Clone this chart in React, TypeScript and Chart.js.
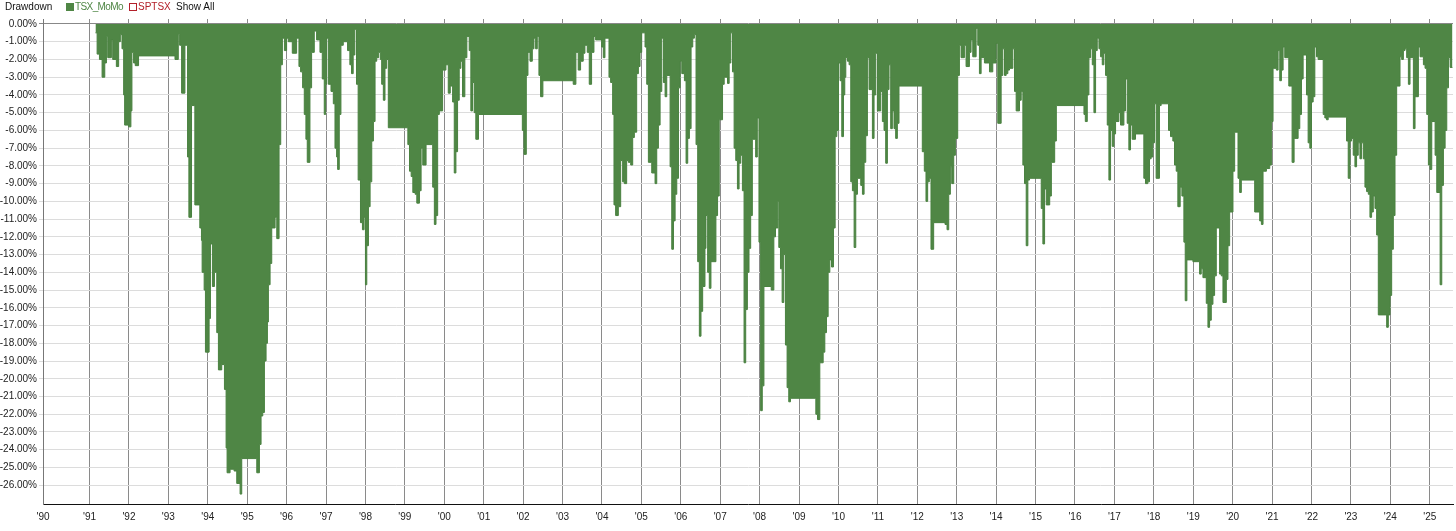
import { useEffect, useRef } from "react";
import { Chart, registerables } from "chart.js";
Chart.register(...registerables);

// decimal-year start of each step and drawdown (%) holding until the next step
const dates = [
  1991.151, 1991.193, 1991.252, 1991.319, 1991.387, 1991.429, 1991.462, 1991.555, 1991.588, 1991.681,
  1991.739, 1991.782, 1991.824, 1991.866, 1991.891, 1991.992, 1992.05, 1992.076, 1992.118, 1992.16,
  1992.244, 1993.168, 1993.252, 1993.286, 1993.336, 1993.42, 1993.487, 1993.521, 1993.588, 1993.672,
  1993.798, 1993.84, 1993.857, 1993.908, 1993.941, 1994.034, 1994.068, 1994.118, 1994.169, 1994.228,
  1994.27, 1994.355, 1994.423, 1994.465, 1994.49, 1994.566, 1994.668, 1994.735, 1994.82, 1994.862,
  1995.243, 1995.31, 1995.352, 1995.395, 1995.437, 1995.479, 1995.513, 1995.538, 1995.581, 1995.623,
  1995.708, 1995.75, 1995.809, 1995.851, 1995.893, 1995.944, 1996.0, 1996.042, 1996.144, 1996.254,
  1996.313, 1996.355, 1996.406, 1996.448, 1996.49, 1996.524, 1996.592, 1996.634, 1996.702, 1996.761,
  1996.846, 1996.905, 1996.955, 1996.989, 1997.017, 1997.059, 1997.126, 1997.185, 1997.227, 1997.269,
  1997.294, 1997.336, 1997.378, 1997.437, 1997.546, 1997.605, 1997.647, 1997.689, 1997.731, 1997.773,
  1997.815, 1997.874, 1997.924, 1997.966, 1998.0, 1998.034, 1998.076, 1998.118, 1998.16, 1998.202,
  1998.244, 1998.286, 1998.336, 1998.378, 1998.412, 1998.454, 1998.496, 1998.538, 1998.58, 1999.076,
  1999.118, 1999.16, 1999.202, 1999.261, 1999.303, 1999.37, 1999.412, 1999.454, 1999.538, 1999.706,
  1999.748, 1999.79, 1999.832, 1999.874, 1999.958, 2000.042, 2000.101, 2000.152, 2000.211, 2000.253,
  2000.295, 2000.337, 2000.379, 2000.421, 2000.463, 2000.522, 2000.573, 2000.632, 2000.674, 2000.716,
  2000.758, 2000.8, 2000.868, 2001.98, 2002.022, 2002.081, 2002.123, 2002.174, 2002.233, 2002.275,
  2002.317, 2002.359, 2002.401, 2002.443, 2002.502, 2003.271, 2003.339, 2003.398, 2003.458, 2003.525,
  2003.568, 2003.627, 2003.678, 2003.737, 2003.797, 2003.839, 2003.992, 2004.034, 2004.076, 2004.178,
  2004.22, 2004.271, 2004.305, 2004.347, 2004.415, 2004.475, 2004.525, 2004.568, 2004.627, 2004.669,
  2004.729, 2004.78, 2004.822, 2004.881, 2004.924, 2004.966, 2005.008, 2005.093, 2005.136, 2005.178,
  2005.263, 2005.347, 2005.39, 2005.432, 2005.475, 2005.517, 2005.559, 2005.602, 2005.644, 2005.729,
  2005.771, 2005.814, 2005.856, 2005.898, 2005.941, 2005.983, 2006.025, 2006.092, 2006.134, 2006.176,
  2006.218, 2006.261, 2006.303, 2006.345, 2006.387, 2006.429, 2006.471, 2006.513, 2006.555, 2006.613,
  2006.639, 2006.681, 2006.723, 2006.765, 2006.891, 2006.933, 2006.975, 2007.059, 2007.101, 2007.185,
  2007.227, 2007.269, 2007.311, 2007.353, 2007.395, 2007.437, 2007.479, 2007.521, 2007.563, 2007.605,
  2007.647, 2007.689, 2007.731, 2007.773, 2007.815, 2007.899, 2007.941, 2007.983, 2008.025, 2008.067,
  2008.109, 2008.294, 2008.361, 2008.403, 2008.462, 2008.487, 2008.529, 2008.571, 2008.613, 2008.655,
  2008.697, 2008.739, 2008.782, 2009.426, 2009.468, 2009.527, 2009.612, 2009.654, 2009.696, 2009.738,
  2009.781, 2009.823, 2009.873, 2009.916, 2009.958, 2010.0, 2010.042, 2010.084, 2010.127, 2010.16,
  2010.186, 2010.228, 2010.27, 2010.312, 2010.354, 2010.397, 2010.439, 2010.481, 2010.565, 2010.608,
  2010.65, 2010.692, 2010.734, 2010.776, 2010.861, 2010.903, 2010.945, 2010.987, 2011.072, 2011.114,
  2011.156, 2011.198, 2011.241, 2011.283, 2011.325, 2011.367, 2011.409, 2011.451, 2011.494, 2011.536,
  2012.127, 2012.178, 2012.22, 2012.263, 2012.305, 2012.347, 2012.415, 2012.703, 2012.754, 2012.797,
  2012.839, 2012.873, 2012.924, 2012.966, 2013.025, 2013.068, 2013.11, 2013.195, 2013.237, 2013.322,
  2013.364, 2013.407, 2013.492, 2013.534, 2013.576, 2013.619, 2013.703, 2013.831, 2013.915, 2014.0,
  2014.042, 2014.127, 2014.169, 2014.212, 2014.254, 2014.297, 2014.339, 2014.424, 2014.466, 2014.508,
  2014.593, 2014.636, 2014.678, 2014.72, 2014.763, 2014.805, 2014.847, 2015.144, 2015.186, 2015.229,
  2015.271, 2015.359, 2015.401, 2015.485, 2015.527, 2016.228, 2016.262, 2016.312, 2016.354, 2016.397,
  2016.439, 2016.481, 2016.523, 2016.565, 2016.608, 2016.65, 2016.692, 2016.734, 2016.776, 2016.819,
  2016.861, 2016.903, 2016.945, 2016.987, 2017.03, 2017.114, 2017.156, 2017.241, 2017.283, 2017.325,
  2017.367, 2017.409, 2017.451, 2017.536, 2017.747, 2017.789, 2017.848, 2017.89, 2017.932, 2017.975,
  2018.017, 2018.059, 2018.143, 2018.186, 2018.373, 2018.424, 2018.483, 2018.525, 2018.568, 2018.61,
  2018.669, 2018.712, 2018.763, 2018.797, 2018.839, 2018.992, 2019.161, 2019.203, 2019.246, 2019.331,
  2019.373, 2019.415, 2019.458, 2019.5, 2019.542, 2019.585, 2019.669, 2019.712, 2019.754, 2019.839,
  2019.881, 2019.924, 2020.008, 2020.051, 2020.136, 2020.178, 2020.22, 2020.559, 2020.686, 2020.729,
  2020.771, 2020.856, 2020.941, 2020.983, 2021.025, 2021.11, 2021.153, 2021.195, 2021.237, 2021.28,
  2021.322, 2021.424, 2021.508, 2021.559, 2021.661, 2021.703, 2021.746, 2021.788, 2021.873, 2021.915,
  2021.958, 2022.0, 2022.042, 2022.085, 2022.127, 2022.169, 2022.297, 2022.339, 2022.381, 2022.424,
  2022.89, 2022.932, 2022.975, 2023.017, 2023.059, 2023.102, 2023.144, 2023.186, 2023.229, 2023.271,
  2023.314, 2023.356, 2023.398, 2023.441, 2023.483, 2023.525, 2023.568, 2023.61, 2023.653, 2023.695,
  2023.907, 2023.949, 2023.992, 2024.034, 2024.076, 2024.119, 2024.161, 2024.246, 2024.288, 2024.331,
  2024.373, 2024.415, 2024.458, 2024.5, 2024.585, 2024.627, 2024.712, 2024.754, 2024.839, 2024.881,
  2024.924, 2024.966, 2025.008, 2025.051, 2025.136, 2025.178, 2025.263, 2025.305, 2025.347, 2025.39,
  2025.432, 2025.475, 2025.517, 2025.576,
];

const drawdown = [
  -0.5, -1.7, -2.0, -3.0, -2.2, -0.7, -1.9, -0.9, -2.0, -2.4,
  -1.0, -0.6, -1.4, -4.0, -5.7, -5.8, -4.9, -1.6, -2.2, -2.35,
  -1.8, -2.0, -0.6, -1.2, -3.9, -1.2, -7.5, -10.9, -4.6, -10.2,
  -11.5, -12.2, -14.0, -15.0, -18.5, -16.6, -12.4, -14.8, -14.0, -17.4,
  -19.5, -19.2, -20.6, -23.9, -25.3, -25.1, -25.2, -25.9, -26.5, -24.5,
  -25.3, -23.7, -22.1, -21.9, -19.0, -18.0, -16.8, -14.7, -13.5, -11.5,
  -10.9, -12.1, -6.8, -2.3, -0.8, -1.5, -0.8, -1.0, -1.65, -0.8,
  -2.4, -2.7, -3.6, -5.1, -6.5, -7.8, -3.6, -1.6, -0.4, -0.9,
  -1.6, -3.1, -5.1, -3.4, -0.8, -3.4, -3.8, -4.5, -7.0, -7.5,
  -8.2, -5.1, -1.2, -1.0, -1.5, -2.3, -2.8, -1.75, -0.3, -3.4,
  -8.8, -11.2, -11.6, -10.9, -14.7, -12.5, -10.3, -8.9, -6.6, -5.5,
  -2.1, -1.9, -1.6, -2.0, -3.4, -4.3, -2.5, -2.0, -5.85, -6.8,
  -8.3, -8.6, -9.5, -9.6, -10.1, -9.4, -7.0, -7.95, -6.8, -9.2,
  -11.3, -10.8, -5.1, -4.9, -2.6, -2.3, -3.9, -3.5, -4.4, -8.4,
  -7.2, -4.3, -2.5, -2.1, -4.1, -1.9, -0.7, -1.5, -4.9, -3.3,
  -5.0, -6.5, -5.1, -6.0, -7.35, -2.9, -1.6, -2.1, -1.4, -0.8,
  -1.4, -0.7, -2.9, -4.1, -3.2, -3.4, -1.6, -2.6, -2.1, -1.65,
  -1.2, -1.6, -3.4, -1.6, -0.7, -0.9, -1.3, -1.9, -0.8, -3.0,
  -3.3, -5.1, -10.2, -10.8, -10.3, -7.7, -8.9, -9.0, -7.7, -7.8,
  -7.95, -6.4, -6.1, -2.8, -2.4, -1.6, -0.5, -1.3, -3.4, -7.8,
  -8.4, -9.0, -7.0, -5.7, -3.8, -0.8, -3.3, -4.1, -2.9, -8.05,
  -12.7, -11.1, -9.6, -8.7, -3.6, -2.1, -2.8, -3.2, -7.85, -6.45,
  -5.9, -1.3, -0.8, -0.6, -6.8, -13.4, -17.6, -16.2, -14.8, -12.65,
  -10.8, -14.0, -14.9, -13.4, -10.8, -9.7, -5.4, -3.4, -3.0, -3.35,
  -2.2, -0.5, -2.7, -7.0, -7.7, -9.3, -7.85, -7.4, -9.4, -19.1,
  -16.1, -14.0, -12.65, -10.8, -6.5, -7.5, -5.3, -12.3, -21.8, -20.4,
  -14.8, -15.0, -12.0, -11.5, -10.0, -12.6, -13.8, -15.7, -13.0, -18.1,
  -20.5, -21.3, -21.1, -22.0, -22.3, -19.1, -18.5, -17.4, -16.5, -14.0,
  -13.3, -13.7, -11.5, -6.35, -6.0, -2.2, -3.2, -6.35, -4.0, -3.0,
  -1.9, -2.1, -2.3, -8.9, -9.4, -12.6, -9.6, -8.7, -9.1, -9.6,
  -7.8, -6.3, -1.9, -3.7, -6.45, -4.0, -1.65, -4.9, -3.8, -5.5,
  -6.0, -7.85, -3.7, -2.3, -5.9, -4.9, -5.9, -6.45, -5.6, -3.5,
  -7.2, -8.3, -10.0, -8.9, -8.7, -12.7, -11.2, -11.3, -11.6, -9.6,
  -8.05, -9.0, -7.4, -6.45, -2.9, -1.2, -1.9, -1.2, -2.4, -1.6,
  -0.9, -1.85, -0.25, -1.2, -2.8, -1.9, -2.2, -2.7, -2.2, -1.1,
  -5.6, -2.9, -1.4, -2.9, -2.8, -2.6, -2.5, -1.4, -3.8, -4.9,
  -4.3, -3.8, -7.95, -9.0, -12.5, -8.8, -8.7, -10.4, -12.4, -9.3,
  -10.2, -9.7, -7.8, -6.6, -4.6, -5.1, -5.5, -4.0, -1.9, -1.4,
  -2.3, -5.0, -1.5, -0.8, -1.4, -1.85, -2.3, -1.65, -2.9, -5.7,
  -8.8, -6.0, -6.9, -6.2, -5.5, -5.0, -5.7, -4.9, -3.1, -5.6,
  -7.1, -5.7, -6.5, -6.2, -8.7, -9.0, -8.9, -7.6, -7.5, -6.7,
  -4.5, -8.7, -4.6, -4.5, -6.0, -6.35, -6.6, -7.95, -8.3, -10.3,
  -9.2, -9.7, -12.3, -15.6, -13.3, -13.4, -14.1, -13.8, -14.3, -15.75,
  -17.1, -16.7, -15.8, -15.3, -14.2, -11.5, -14.1, -14.2, -15.7, -14.4,
  -12.5, -10.6, -8.3, -6.1, -8.7, -9.5, -8.8, -10.6, -11.1, -11.3,
  -8.3, -8.15, -7.95, -5.5, -2.5, -2.6, -1.5, -3.2, -2.6, -1.3,
  -1.9, -3.5, -7.8, -6.45, -5.9, -5.1, -3.1, -1.75, -4.0, -6.7,
  -7.0, -4.4, -4.1, -1.3, -1.85, -2.0, -5.1, -5.3, -5.4, -5.25,
  -6.6, -8.7, -6.6, -6.45, -7.4, -8.05, -7.4, -6.7, -7.6, -6.7,
  -7.6, -9.2, -9.45, -9.6, -10.9, -10.6, -9.7, -10.4, -11.9, -16.4,
  -17.1, -16.4, -15.3, -12.7, -10.8, -7.4, -3.5, -1.85, -2.0, -1.5,
  -1.4, -1.9, -3.4, -1.9, -5.9, -4.1, -1.3, -1.85, -2.3, -2.5,
  -5.1, -7.95, -8.2, -5.5, -7.4, -9.5, -14.7, -9.1, -7.0, -6.0,
  -3.6, -1.9, -2.45, -2.45,
];

const X_MIN = 1989.82;
const X_MAX = 2025.59;
const yearTicks = [
  X_MIN, 1991, 1992, 1993, 1994, 1995, 1996, 1997, 1998, 1999, 2000, 2001, 2002, 2003, 2004, 2005, 2006,
  2007, 2008, 2009, 2010, 2011, 2012, 2013, 2014, 2015, 2016, 2017, 2018, 2019, 2020, 2021, 2022, 2023,
  2024, 2025,
];
const yearLabels = [
  "'90", "'91", "'92", "'93", "'94", "'95", "'96", "'97", "'98", "'99", "'00", "'01", "'02", "'03", "'04",
  "'05", "'06", "'07", "'08", "'09", "'10", "'11", "'12", "'13", "'14", "'15", "'16", "'17", "'18", "'19",
  "'20", "'21", "'22", "'23", "'24", "'25",
];
const yTicks = [
  0, -1, -2, -3, -4, -5, -6, -7, -8, -9, -10, -11, -12, -13, -14, -15, -16, -17, -18, -19, -20, -21, -22,
  -23, -24, -25, -26,
];

const FONT = '"Liberation Sans", Arial, sans-serif';
const GREEN = "#4f8645";
const RED = "#b3202a";

export default function App() {
  const ref = useRef<HTMLCanvasElement>(null);

  useEffect(() => {
    document.body.style.margin = "0";
    const chart = new Chart(ref.current!, {
      type: "line",
      data: {
        datasets: [
          {
            label: "TSX_MoMo",
            data: dates.map((d, i) => ({ x: d, y: drawdown[i] })),
            stepped: true,
            fill: "origin",
            backgroundColor: GREEN,
            borderColor: "#4a8240",
            borderWidth: 1,
            pointRadius: 0,
            tension: 0,
          },
        ],
      },
      options: {
        animation: false,
        responsive: false,
        devicePixelRatio: 1,
        layout: { padding: { top: 19, right: 3, left: 0, bottom: 0 } },
        plugins: { legend: { display: false }, tooltip: { enabled: false }, title: { display: false } },
        scales: {
          x: {
            type: "linear",
            min: X_MIN,
            max: X_MAX,
            afterBuildTicks: (s: any) => {
              s.ticks = yearTicks.map((v) => ({ value: v }));
            },
            afterFit: (s: any) => {
              s.height = 27;
            },
            ticks: {
              autoSkip: false,
              maxRotation: 0,
              minRotation: 0,
              padding: 7,
              color: "#222",
              font: { family: FONT, size: 10 },
              callback: (_v: any, i: number) => yearLabels[i],
            },
            grid: { color: "#8a8a8a", lineWidth: 1, drawTicks: false },
            border: { color: "#111", width: 1 },
          },
          y: {
            min: -27.06,
            max: 0.28,
            afterBuildTicks: (s: any) => {
              s.ticks = yTicks.map((v) => ({ value: v }));
            },
            afterFit: (s: any) => {
              s.width = 43;
            },
            ticks: {
              padding: 2,
              color: "#222",
              font: { family: FONT, size: 10 },
              callback: (v: any) => Number(v).toFixed(2) + "%",
            },
            grid: {
              color: (ctx: any) => (ctx.tick && ctx.tick.value === 0 ? "#888" : "#dcdcdc"),
              lineWidth: 1,
              tickLength: 4,
            },
            border: { color: "#777", width: 1 },
          },
        },
      },
    });
    return () => chart.destroy();
  }, []);

  const txt: any = {
    position: "absolute",
    top: 1,
    fontFamily: FONT,
    fontSize: 10,
    lineHeight: "12px",
    whiteSpace: "nowrap",
  };
  return (
    <div style={{ position: "relative", width: 1456, height: 531, background: "#fff" }}>
      <canvas ref={ref} width={1456} height={531} style={{ display: "block" }} />
      <div style={{ ...txt, left: 5, color: "#111" }}>Drawdown</div>
      <div style={{ position: "absolute", left: 66, top: 3, width: 8, height: 8, background: GREEN }} />
      <div style={{ ...txt, left: 75, color: GREEN, letterSpacing: "-0.6px" }}>TSX_MoMo</div>
      <div
        style={{
          position: "absolute",
          left: 129,
          top: 3,
          width: 6,
          height: 6,
          border: "1px solid " + RED,
          background: "#fff",
        }}
      />
      <div style={{ ...txt, left: 138, color: RED }}>SPTSX</div>
      <div style={{ ...txt, left: 176, color: "#111" }}>Show All</div>
    </div>
  );
}
